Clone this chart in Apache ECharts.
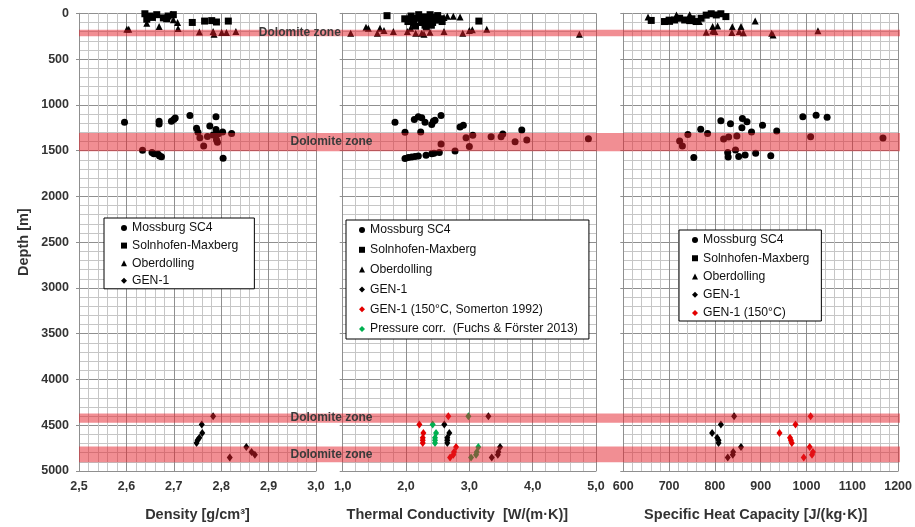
<!DOCTYPE html>
<html><head><meta charset="utf-8">
<script src="https://cdn.jsdelivr.net/npm/echarts@6/dist/echarts.min.js"></script>
<style>html,body{margin:0;padding:0;background:#fff}#c{width:915px;height:527px}</style>
</head><body><div id="c"></div><script>
// ---------- DATA ----------
// Density [g/cm3] vs depth [m]
const mossburgDensity = [[2.596,1189],[2.669,1180],[2.669,1210],[2.695,1180],[2.700,1160],[2.703,1145],[2.734,1116],[2.789,1130],[2.776,1230],[2.748,1255],[2.789,1270],[2.751,1300],[2.755,1360],[2.771,1345],[2.763,1450],[2.783,1330],[2.790,1380],[2.794,1315],[2.792,1410],[2.803,1298],[2.822,1312],[2.634,1497],[2.654,1522],[2.658,1535],[2.667,1540],[2.670,1560],[2.674,1568],[2.804,1584]];
const solnhofenDensity = [[2.639,5],[2.650,30],[2.643,65],[2.664,15],[2.678,50],[2.688,30],[2.699,15],[2.655,45],[2.685,60],[2.739,100],[2.765,85],[2.780,80],[2.790,95],[2.815,85]];
const oberdollingDensity = [[2.601,175],[2.605,175],[2.643,110],[2.669,145],[2.699,70],[2.708,100],[2.695,10],[2.709,165],[2.754,205],[2.783,200],[2.785,230],[2.801,210],[2.811,210],[2.831,200]];
// Thermal conductivity [W/(m K)] vs depth
const mossburgConductivity = [[1.826,1189],[2.131,1160],[2.194,1130],[2.248,1141],[2.300,1189],[2.406,1214],[2.432,1178],[2.458,1167],[2.553,1116],[2.853,1243],[2.905,1222],[3.828,1276],[1.984,1300],[2.232,1297],[2.553,1428],[2.948,1359],[3.054,1333],[3.343,1348],[3.501,1348],[3.528,1318],[3.000,1455],[3.722,1402],[3.907,1383],[4.880,1370],[2.774,1505],[1.984,1587],[2.036,1576],[2.090,1570],[2.142,1565],[2.194,1559],[2.316,1551],[2.406,1533],[2.442,1529],[2.526,1522]];
const solnhofenConductivity = [[1.70,26],[3.15,85],[1.98,60],[2.03,90],[2.08,30],[2.12,110],[2.17,55],[2.20,15],[2.25,85],[2.28,40],[2.30,130],[2.35,70],[2.38,15],[2.42,100],[2.45,45],[2.48,75],[2.50,25],[2.54,60],[2.57,90],[2.15,140],[2.32,150],[2.10,70],[2.40,130]];
const oberdollingConductivity = [[1.126,217],[1.368,152],[1.405,163],[1.547,217],[1.589,163],[1.652,189],[1.800,200],[2.021,200],[2.074,163],[2.153,217],[2.248,217],[2.284,228],[2.379,207],[2.600,200],[2.896,217],[3.000,189],[3.047,181],[3.275,174],[4.738,228],[2.652,32],[2.747,32],[2.853,40],[2.60,45],[2.22,100]];
// Specific heat capacity [J/(kg K)] vs depth
const mossburgHeatCapacity = [[813,1175],[834,1207],[860,1150],[870,1185],[859,1250],[904,1222],[992,1130],[1021,1115],[1045,1135],[769,1268],[935,1287],[723,1395],[729,1450],[741,1323],[784,1312],[819,1372],[830,1352],[848,1341],[880,1296],[1009,1348],[1167,1362],[754,1576],[828,1522],[829,1570],[845,1493],[852,1565],[866,1548],[889,1529],[922,1555]];
const solnhofenHeatCapacity = [[661,78],[690,90],[701,88],[712,73],[723,54],[734,73],[759,90],[770,54],[781,20],[792,5],[803,18],[813,5],[824,36],[700,75],[750,60],[745,80]];
const oberdollingHeatCapacity = [[654,40],[745,15],[716,18],[766,90],[795,145],[806,138],[838,148],[857,145],[888,85],[781,207],[795,192],[800,198],[837,210],[853,200],[862,212],[924,217],[927,236],[1025,190]];
// GEN-1 well
const gen1Depth = [4402,4493,4584,4638,4663,4695,4739,4793,4822,4852];
const gen1Density = [2.783,2.759,2.760,2.754,2.750,2.748,2.853,2.864,2.871,2.818];
const gen1Conductivity = [3.300,2.605,2.684,2.652,2.652,2.652,3.485,3.458,3.449,3.354];
const gen1Conductivity150 = [2.668,2.211,2.274,2.264,2.264,2.264,2.790,2.758,2.747,2.695];
const gen1ConductivityPressure = [2.985,2.421,2.474,2.458,2.458,2.458,3.142,3.117,3.106,3.027];
const gen1HeatCapacity = [842,813,794,805,808,808,857,840,839,828];
const gen1HeatCapacity150 = [1009,976,941,964,966,968,1007,1014,1012,994];
// Dolomite zones [m]
const dolomiteTop = [180,1300,4350,4710];
const dolomiteBottom = [250,1500,4450,4880];
const dolomiteLabel = 'Dolomite zone';
// Axes
const depthTicks = {min:0, max:5000, interval:500};
const densityTicks = {min:2.5, max:3.0, interval:0.1};
const conductivityTicks = {min:1, max:5, interval:1};
const heatTicks = {min:600, max:1200, interval:100};

// ---------- STYLE / LAYOUT ----------
const FONT = "'Liberation Sans', Arial, sans-serif";
const MAJOR = '#8f8f8f', MINOR = '#c6c6c6';
const TOP = 13.3, H = 460;
const grids = [
  {left:79, top:TOP, width:237, height:H},
  {left:342.7, top:TOP, width:253.3, height:H},
  {left:623.3, top:TOP, width:276.7, height:H},
  {left:79, top:TOP, width:821, height:H}
];
const labelFrac = [0.269, 0.3076, 0.3076, 0.3076];

const pair = (vals) => vals.map((v,i) => [v, gen1Depth[i]]);
const comma = v => v.toFixed(1).replace('.', ',');

function xAxis(g, ticks, name, fmt, namePad) {
  return {gridIndex:g, type:'value', min:ticks.min, max:ticks.max, interval:ticks.interval,
    minorTick:{show:false, splitNumber:5},
    minorSplitLine:{show:true, lineStyle:{color:MINOR, width:1}},
    splitLine:{show:true, lineStyle:{color:MAJOR, width:1}},
    axisLine:{show:true, onZero:false, lineStyle:{color:MAJOR}},
    axisTick:{show:false},
    axisLabel:{formatter:fmt, fontFamily:FONT, fontWeight:'bold', fontSize:12.5, color:'#333', margin:9},
    name:name, nameLocation:'middle', nameGap:36,
    nameTextStyle:{fontFamily:FONT, fontWeight:'bold', fontSize:14.5, color:'#333', padding:namePad}};
}
function yAxis(g, showLabels) {
  return {gridIndex:g, type:'value', inverse:true, min:depthTicks.min, max:depthTicks.max, interval:depthTicks.interval,
    minorTick:{show:false, splitNumber:5},
    minorSplitLine:{show:true, lineStyle:{color:MINOR, width:1}},
    splitLine:{show:true, lineStyle:{color:MAJOR, width:1}},
    axisLine:{show:true, onZero:false, lineStyle:{color:MAJOR}},
    axisTick:{show:true, length:3, lineStyle:{color:MAJOR}},
    axisLabel:{show:showLabels, formatter:v => String(v), fontFamily:FONT, fontWeight:'bold', fontSize:12.5, color:'#333', margin:10},
    name: showLabels ? 'Depth [m]' : '', nameLocation:'middle', nameGap:48,
    nameTextStyle:{fontFamily:FONT, fontWeight:'bold', fontSize:14.5, color:'#333'}};
}
function sc(name, data, g, symbol, color, size) {
  return {type:'scatter', name:name, data:data, xAxisIndex:g, yAxisIndex:g, symbol:symbol,
    symbolSize:size, itemStyle:{color:color, opacity:1}, z:2, silent:true, animation:false};
}
const CIRC = 7, SQ = 7, TRI = 7, DIA = [6,8];
const BLACK = '#000', RED = '#e30000', GREEN = '#00b050';

const series = [];
const panels = [
  {m:mossburgDensity, s:solnhofenDensity, o:oberdollingDensity, g:gen1Density},
  {m:mossburgConductivity, s:solnhofenConductivity, o:oberdollingConductivity, g:gen1Conductivity},
  {m:mossburgHeatCapacity, s:solnhofenHeatCapacity, o:oberdollingHeatCapacity, g:gen1HeatCapacity}
];
panels.forEach((p, i) => {
  series.push(sc('Mossburg SC4', p.m, i, 'circle', BLACK, CIRC));
  series.push(sc('Solnhofen-Maxberg', p.s, i, 'rect', BLACK, SQ));
  series.push(sc('Oberdolling', p.o, i, 'triangle', BLACK, TRI));
  series.push(sc('GEN-1', pair(p.g), i, 'diamond', BLACK, DIA));
});
series.push(sc('GEN-1 (150°C, Somerton 1992)', pair(gen1Conductivity150), 1, 'diamond', RED, DIA));
series.push(sc('Pressure corr.  (Fuchs & Förster 2013)', pair(gen1ConductivityPressure), 1, 'diamond', GREEN, DIA));
series.push(sc('GEN-1 (150°C)', pair(gen1HeatCapacity150), 2, 'diamond', RED, DIA));

// Dolomite bands (drawn above the points, semi-transparent)
series.push({type:'custom', xAxisIndex:3, yAxisIndex:3, z:10, silent:true, animation:false, clip:false,
  data: dolomiteTop.map((t,i) => [t, dolomiteBottom[i]]),
  encode:{x:-1, y:[0,1]},
  renderItem:(params, api) => {
    const a = api.coord([0, api.value(0)]);
    const b = api.coord([1, api.value(1)]);
    return {type:'rect', shape:{x:a[0], y:a[1], width:b[0]-a[0], height:b[1]-a[1]},
      style:{fill:'rgba(228,30,40,0.5)'}};
  }});
series.push({type:'custom', xAxisIndex:3, yAxisIndex:3, z:11, silent:true, animation:false, clip:false,
  data: dolomiteTop.map((t,i) => [(t + dolomiteBottom[i]) / 2]),
  encode:{x:-1, y:0},
  renderItem:(params, api) => {
    const p = api.coord([labelFrac[params.dataIndex], api.value(0)]);
    return {type:'text', x:p[0], y:p[1],
      style:{text:dolomiteLabel, fill:'#3a3a3a', font:'bold 12px ' + FONT, align:'center', verticalAlign:'middle'}};
  }});

function legend(left, top, names, gap, pad, fs) {
  return {left:left, top:top, orient:'vertical', data:names, itemGap:gap, itemWidth:6, itemHeight:6,
    padding:pad, borderColor:'#000', borderWidth:1, backgroundColor:'#fff', selectedMode:false,
    textStyle:{fontFamily:FONT, fontSize:fs, color:'#111', lineHeight:14}};
}
const base = ['Mossburg SC4','Solnhofen-Maxberg','Oberdolling','GEN-1'];

const option = {
  animation:false,
  backgroundColor:'#fff',
  grid: grids,
  xAxis: [
    xAxis(0, densityTicks, 'Density [g/cm³]', comma, [0,0,0,0]),
    xAxis(1, conductivityTicks, 'Thermal Conductivity  [W/(m·K)]', comma, [0,24,0,0]),
    xAxis(2, heatTicks, 'Specific Heat Capacity [J/(kg·K)]', v => String(v), [0,10,0,0]),
    {gridIndex:3, type:'value', min:0, max:1, show:false}
  ],
  yAxis: [yAxis(0, true), yAxis(1, false), yAxis(2, false),
    {gridIndex:3, type:'value', inverse:true, min:depthTicks.min, max:depthTicks.max, show:false}],
  legend: [
    legend(104, 218, base, 3.6, [3,16,1,17], 12.2),
    legend(346, 220, base.concat(['GEN-1 (150°C, Somerton 1992)','Pressure corr.  (Fuchs & Förster 2013)']), 5.8, [3,11,3,13], 12.2),
    legend(679, 230, base.concat(['GEN-1 (150°C)']), 4.25, [3,12,1,13], 12.2)
  ],
  series: series
};
const chart = echarts.init(document.getElementById('c'), null, {renderer:'canvas'});
chart.setOption(option);
</script></body></html>
